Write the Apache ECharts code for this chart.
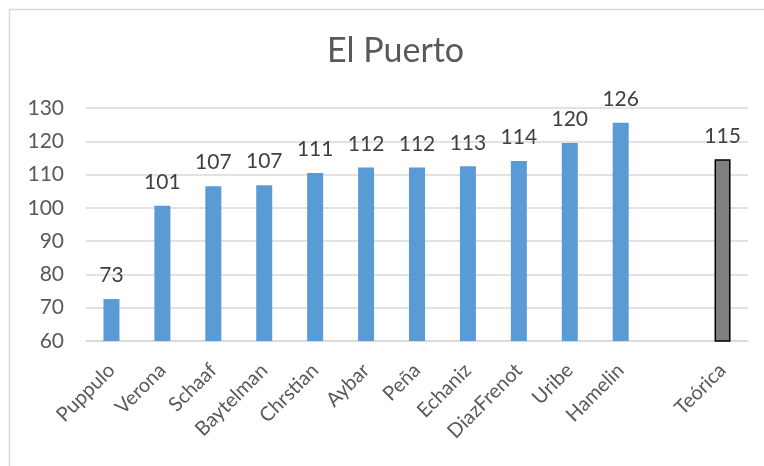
<!DOCTYPE html>
<html>
<head>
<meta charset="utf-8">
<script src="https://cdn.jsdelivr.net/npm/echarts@6/dist/echarts.min.js"></script>
<style>
  html, body { margin: 0; padding: 0; background: #fff; }
  #chart { width: 764px; height: 466px; }
</style>
</head>
<body>
<div id="chart"></div>
<script>
// Categories along the x axis (blank slot separates the theoretical value)
const categories = ['Puppulo', 'Verona', 'Schaaf', 'Baytelman', 'Chrstian', 'Aybar',
  'Peña', 'Echaniz', 'DiazFrenot', 'Uribe', 'Hamelin', '', 'Teórica'];
// Measured values per person, plus the theoretical reference at the end
const values = [72.6, 100.6, 106.5, 106.8, 110.5, 112.1, 112.1, 112.5, 114.1, 119.5, 125.6, null, 114.6];
// Y axis range
const yMin = 60, yMax = 130, yStep = 10;

const FONT = 'Lato';
const chart = echarts.init(document.getElementById('chart'));

const seriesData = values.map((v, i) => {
  if (v === null) return '-';
  if (categories[i] === 'Teórica') {
    return { value: v, itemStyle: { color: '#7F7F7F', borderColor: '#000', borderWidth: 1.5 } };
  }
  return v;
});

chart.setOption({
  animation: false,
  backgroundColor: '#fff',
  graphic: [{
    type: 'rect',
    shape: { x: 9.5, y: 9.5, width: 800, height: 500 },
    style: { fill: 'none', stroke: '#D9D9D9', lineWidth: 1.5 },
    silent: true
  }],
  title: {
    text: 'El Puerto',
    left: 327,
    top: 34,
    padding: 0,
    textStyle: { fontFamily: FONT, fontSize: 34, fontWeight: 'normal', color: '#595959' }
  },
  grid: { left: 86, right: 16, top: 108, bottom: 125 },
  xAxis: {
    type: 'category',
    data: categories,
    axisLine: { lineStyle: { color: '#D9D9D9', width: 1.5 } },
    axisTick: { show: false },
    axisLabel: {
      interval: 0,
      rotate: 45,
      margin: 26,
      fontFamily: FONT,
      fontSize: 20,
      color: '#595959'
    }
  },
  yAxis: {
    type: 'value',
    min: yMin,
    max: yMax,
    interval: yStep,
    axisLine: { show: false },
    axisTick: { show: false },
    splitLine: { lineStyle: { color: '#D9D9D9', width: 1.5 } },
    axisLabel: { fontFamily: FONT, fontSize: 21, color: '#595959', margin: 22 }
  },
  series: [{
    type: 'bar',
    data: seriesData,
    barWidth: 16,
    itemStyle: { color: '#5B9BD5' },
    label: {
      show: true,
      position: 'top',
      distance: 13,
      fontFamily: FONT,
      fontSize: 21,
      color: '#404040',
      formatter: p => Math.round(p.value)
    }
  }]
});
</script>
</body>
</html>
